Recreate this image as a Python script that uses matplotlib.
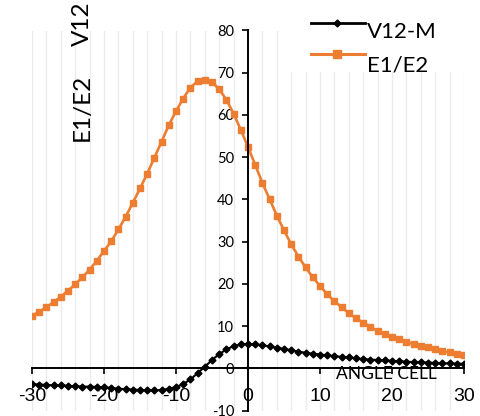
import matplotlib
matplotlib.use("Agg")
import matplotlib.pyplot as plt
from matplotlib.lines import Line2D
from matplotlib.patches import Rectangle

angle = [-30, -29, -28, -27, -26, -25, -24, -23, -22, -21,
         -20, -19, -18, -17, -16, -15, -14, -13, -12, -11,
         -10, -9, -8, -7, -6, -5, -4, -3, -2, -1,
         0, 1, 2, 3, 4, 5, 6, 7, 8, 9,
         10, 11, 12, 13, 14, 15, 16, 17, 18, 19,
         20, 21, 22, 23, 24, 25, 26, 27, 28, 29, 30]

e1_e2 = [12.5, 13.4, 14.5, 15.7, 17.0, 18.4, 19.9, 21.6, 23.4, 25.5,
         27.8, 30.1, 32.9, 35.9, 39.2, 42.6, 46.1, 49.9, 53.7, 57.6,
         60.9, 63.9, 66.5, 68.0, 68.4, 67.8, 66.1, 63.6, 60.3, 56.5,
         52.4, 48.2, 43.9, 40.1, 36.2, 32.7, 29.4, 26.5, 23.9, 21.6,
         19.5, 17.6, 15.9, 14.5, 13.1, 11.9, 10.8, 9.9, 8.9, 8.2,
         7.5, 6.9, 6.3, 5.8, 5.4, 5.0, 4.5, 4.1, 3.8, 3.5, 3.3]

v12_m = [-3.7, -3.8, -3.9, -4.0, -4.0, -4.1, -4.2, -4.3, -4.3, -4.4,
         -4.5, -4.6, -4.8, -4.9, -5.0, -5.1, -5.2, -5.2, -5.1, -4.8,
         -4.4, -3.7, -2.6, -1.1, 0.4, 2.0, 3.4, 4.5, 5.3, 5.7,
         5.8, 5.7, 5.5, 5.2, 4.9, 4.6, 4.3, 4.0, 3.7, 3.5,
         3.3, 3.1, 2.9, 2.75, 2.6, 2.4, 2.2, 2.1, 2.0, 1.9,
         1.8, 1.7, 1.6, 1.5, 1.45, 1.4, 1.3, 1.2, 1.2, 1.15, 1.1]

x_ticks = [-30, -20, -10, 0, 10, 20, 30]
y_ticks = [-10, 0, 10, 20, 30, 40, 50, 60, 70, 80]
grid_x = [-30, -28, -26, -24, -22, -20, -18, -16, -14, -12, -10, -8, -6, -4, -2,
          2, 4, 6, 8, 10, 12, 14, 16, 18, 20, 22, 24, 26, 28, 30]

W, H = 480, 416
fig = plt.figure(figsize=(4.8, 4.16), dpi=100)
ax = fig.add_axes([32 / W, 1 - 410.7 / H, (464 - 32) / W, (410.7 - 30.5) / H])
ax.set_xlim(-30, 30)
ax.set_ylim(-10, 80)

orange = "#ED7D31"
for gx in grid_x:
    ax.axvline(gx, color="#ebebeb", lw=1.0, zorder=0)

ax.plot(angle, e1_e2, color=orange, lw=1.9, marker="s", markersize=5,
        zorder=3, label="E1/E2")
ax.plot(angle, v12_m, color="black", lw=1.5, marker="D", markersize=3.5,
        zorder=4, label="V12-M")

for s in ["top", "right"]:
    ax.spines[s].set_visible(False)
ax.spines["left"].set_position(("data", 0))
ax.spines["bottom"].set_position(("data", 0))
ax.spines["left"].set_linewidth(1.4)
ax.spines["bottom"].set_linewidth(1.4)
ax.spines["left"].set_zorder(5)
ax.spines["bottom"].set_zorder(5)

ax.set_xticks(x_ticks)
ax.set_xticklabels([str(t) for t in x_ticks], fontfamily="Liberation Sans", fontsize=14)
ax.set_yticks(y_ticks)
ax.set_yticklabels([str(t) for t in y_ticks], fontfamily="Lato", fontsize=10.5)
ax.tick_params(axis="x", direction="out", length=4, width=1.2, pad=10)
ax.tick_params(axis="y", direction="out", length=4, width=1.2, pad=6)
for lbl in ax.get_yticklabels():
    lbl.set_clip_on(False)

fig.text(386 / W, 1 - 374 / H, "ANGLE CELL", fontsize=12.5, fontfamily="Lato",
         ha="center", va="center", zorder=6)

# y titles
fig.text(82 / W, 1 - 24 / H, "V12", rotation=90, fontsize=17.5, fontfamily="Lato",
         ha="center", va="center")
fig.text(82 / W, 1 - 107 / H, "E1/E2", rotation=90, fontsize=17.5, fontfamily="Lato",
         ha="center", va="center")

# legend
fig.add_artist(Rectangle((290 / W, 1 - 72 / H), 190 / W, 72 / H, transform=fig.transFigure,
                         facecolor="white", edgecolor="none", zorder=1))
handles = [("V12-M", "black", "D", 3.5, 2.0, 22.7, 32),
           ("E1/E2", orange, "s", 6, 2.2, 54.3, 65)]
for name, col, mk, ms, lw, ly, ty in handles:
    fig.add_artist(Line2D([311 / W, 365 / W], [1 - ly / H, 1 - ly / H],
                          transform=fig.transFigure, color=col, lw=lw, zorder=2))
    fig.add_artist(Line2D([337 / W], [1 - ly / H], transform=fig.transFigure,
                          color=col, marker=mk, markersize=ms, lw=0, zorder=2))
    fig.text(367 / W, 1 - ty / H, name, fontsize=16, fontfamily="Lato",
             ha="left", va="center", zorder=3)

fig.savefig("out.png", dpi=100)
